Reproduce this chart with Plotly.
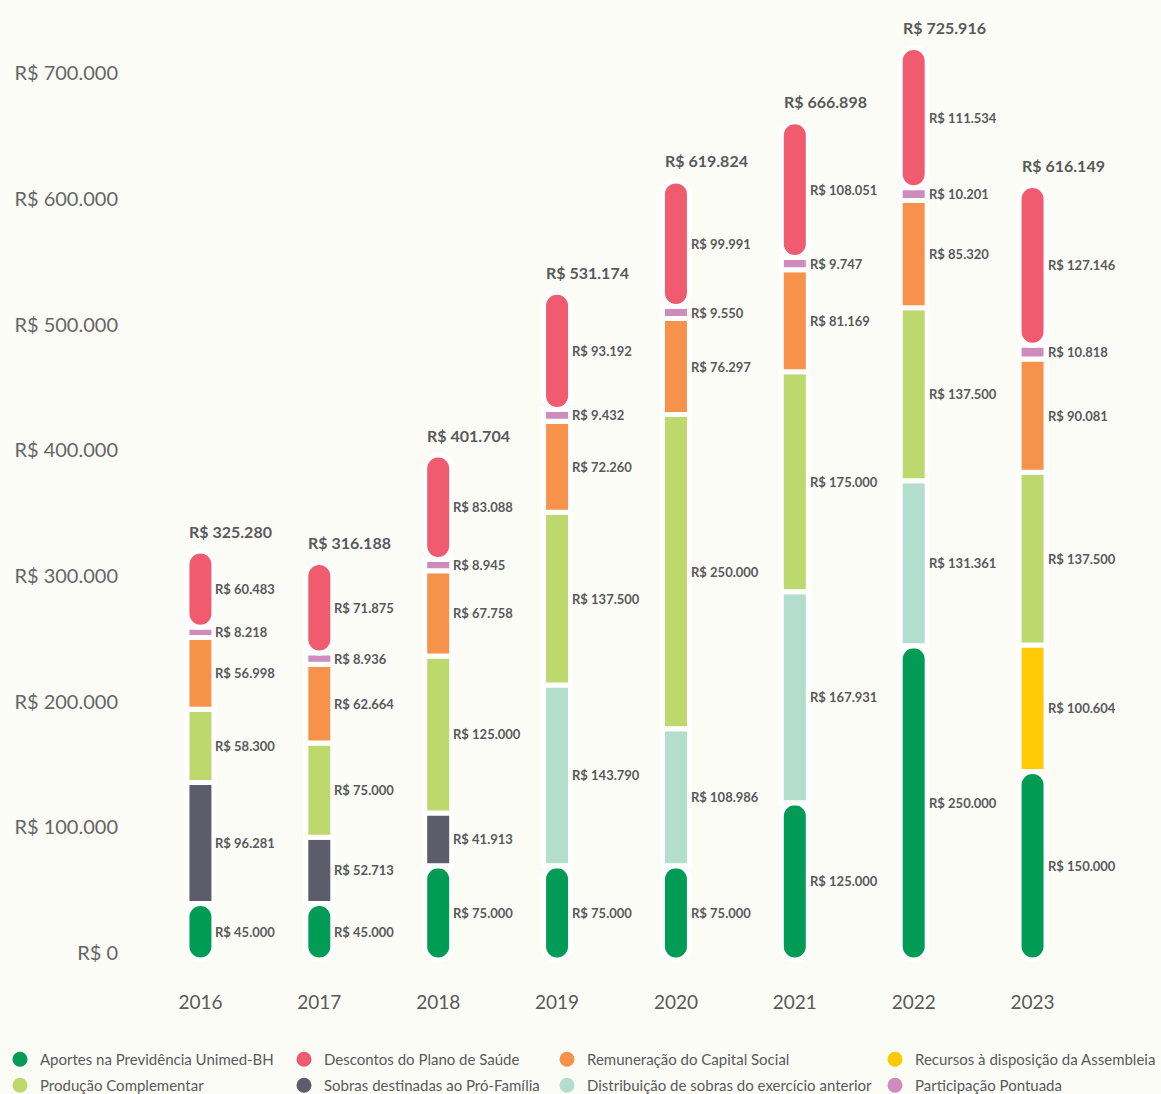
import plotly.graph_objects as go

# ---------------- data ----------------
years = ["2016", "2017", "2018", "2019", "2020", "2021", "2022", "2023"]

aportes = [45000, 45000, 75000, 75000, 75000, 125000, 250000, 150000]
sobras_pro_familia = [96281, 52713, 41913, None, None, None, None, None]
distribuicao_sobras = [None, None, None, 143790, 108986, 167931, 131361, None]
recursos_assembleia = [None, None, None, None, None, None, None, 100604]
producao_complementar = [58300, 75000, 125000, 137500, 250000, 175000, 137500, 137500]
remuneracao_capital = [56998, 62664, 67758, 72260, 76297, 81169, 85320, 90081]
participacao_pontuada = [8218, 8936, 8945, 9432, 9550, 9747, 10201, 10818]
descontos_plano = [60483, 71875, 83088, 93192, 99991, 108051, 111534, 127146]

y_tick_values = [0, 100000, 200000, 300000, 400000, 500000, 600000, 700000]

# ---------------- styles ----------------
FONT = "Lato"
TXT = "#58595b"
BG = "#fcfcf7"

# stacking order (bottom -> top)
stack = [
    ("Aportes na Previdência Unimed-BH", aportes, "#009b55"),
    ("Sobras destinadas ao Pró-Família", sobras_pro_familia, "#5c5c6a"),
    ("Distribuição de sobras do exercício anterior", distribuicao_sobras, "#b3dece"),
    ("Recursos à disposição da Assembleia", recursos_assembleia, "#ffc905"),
    ("Produção Complementar", producao_complementar, "#bdd96e"),
    ("Remuneração do Capital Social", remuneracao_capital, "#f7924a"),
    ("Participação Pontuada", participacao_pontuada, "#cf8abe"),
    ("Descontos do Plano de Saúde", descontos_plano, "#f15b6f"),
]
colors = {n: c for n, _, c in stack}


def brl(v):
    return "R$ " + f"{v:,}".replace(",", ".")


BAR_W = 0.227
xs = list(range(len(years)))
fig = go.Figure()
annotations = []
cum = [0] * len(years)

for idx, (name, vals, color) in enumerate(stack):
    v0 = [v if v is not None else 0 for v in vals]
    if idx == 0:
        # bottom segment drawn downward from its top so the rounded end sits at zero
        base = v0[:]
        y = [-v if v is not None else None for v in vals]
        radius = "50%"
    else:
        base = cum[:]
        y = vals
        radius = "50%" if idx == len(stack) - 1 else 0
    fig.add_trace(go.Bar(
        x=xs, y=y, base=base, name=name, width=BAR_W,
        marker=dict(color=color, line=dict(color="white", width=5), cornerradius=radius),
        showlegend=False, hoverinfo="skip",
    ))
    for i, v in enumerate(vals):
        if v is None:
            continue
        annotations.append(dict(
            x=xs[i], y=cum[i] + v / 2, xref="x", yref="y",
            text=brl(v), showarrow=False, xanchor="left", yanchor="middle",
            xshift=13, font=dict(family=FONT, size=13, color=TXT, weight="bold"),
        ))
    cum = [c + v for c, v in zip(cum, v0)]

# totals above each bar
for i, t in enumerate(cum):
    annotations.append(dict(
        x=xs[i], y=t, xref="x", yref="y", text=brl(t), showarrow=False,
        xanchor="left", yanchor="middle", xshift=-13, yshift=20,
        font=dict(family=FONT, size=16, color=TXT, weight="bold"),
    ))

# legend-only traces with round markers, four columns
columns = [
    ["Aportes na Previdência Unimed-BH", "Produção Complementar"],
    ["Descontos do Plano de Saúde", "Sobras destinadas ao Pró-Família"],
    ["Remuneração do Capital Social", "Distribuição de sobras do exercício anterior"],
    ["Recursos à disposição da Assembleia", "Participação Pontuada"],
]
legend_x = [0 / 1161, 284 / 1161, 547 / 1161, 875 / 1161]
legend_names = ["legend", "legend2", "legend3", "legend4"]
for col, lname in zip(columns, legend_names):
    for n in col:
        fig.add_trace(go.Scatter(
            x=[None], y=[None], mode="markers", name=n, legend=lname,
            legendgroup=n, marker=dict(symbol="circle", size=15, color=colors[n]),
            hoverinfo="skip",
        ))

PX_PER = 0.001257
ZERO_PX = 960
TOP_PX, BOT_PX = 15, 975
ymax = (ZERO_PX - TOP_PX) / PX_PER
ymin = -(BOT_PX - ZERO_PX) / PX_PER

layout_legends = {}
for lname, lx in zip(legend_names, legend_x):
    layout_legends[lname] = dict(
        x=lx, xref="container", xanchor="left",
        y=1 - 1043 / 1094, yref="container", yanchor="top",
        orientation="v", traceorder="grouped", tracegroupgap=3.5,
        font=dict(family=FONT, size=15, color=TXT), bgcolor="rgba(0,0,0,0)",
        itemclick=False, itemdoubleclick=False,
    )

fig.update_layout(
    width=1161, height=1094,
    paper_bgcolor=BG, plot_bgcolor=BG,
    barmode="overlay",
    margin=dict(l=140.5, r=68.5, t=TOP_PX, b=1094 - BOT_PX, autoexpand=False),
    font=dict(family=FONT, color=TXT),
    annotations=annotations,
    xaxis=dict(
        range=[-0.5, 7.5], showgrid=False, zeroline=False,
        showline=False, ticks="", tickvals=xs, ticktext=years,
        tickfont=dict(family=FONT, size=19, color=TXT),
        ticklabelstandoff=14, fixedrange=True,
    ),
    yaxis=dict(
        range=[ymin, ymax], showgrid=False, zeroline=False, showline=False,
        tickvals=y_tick_values, ticktext=[brl(v) for v in y_tick_values],
        tickfont=dict(family=FONT, size=20, color="#656668"),
        ticklabelstandoff=22, ticklabelshift=-7, fixedrange=True,
    ),
    **layout_legends,
)

fig.write_html(
    "out.html",
    config={"displayModeBar": False},
    post_script="document.body.style.margin='0px';document.body.style.background='%s';" % BG,
)
